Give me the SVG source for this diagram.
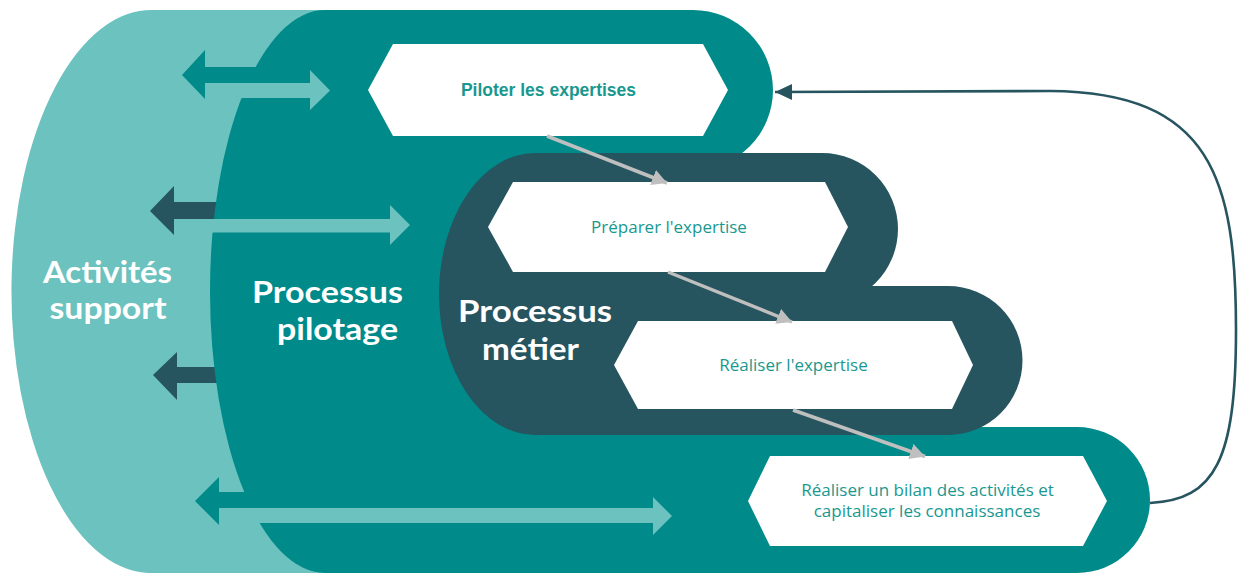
<svg xmlns="http://www.w3.org/2000/svg" width="1239" height="574" viewBox="0 0 1239 574">
<defs>
<style>
.support{fill:#6CC2BE}
.pilot{fill:#008B8A}
.metier{fill:#26545F}
.hex{fill:#FFFFFF}
.big{font-family:Lato,"Open Sans","Liberation Sans",sans-serif;font-weight:700;font-size:30px;fill:#FFFFFF;text-anchor:middle}
.ntext{font-family:"Open Sans","Liberation Sans",sans-serif;font-weight:500;font-size:17px;fill:#199890;text-anchor:middle}
.nbold{font-family:"Liberation Sans",Arial,sans-serif;font-weight:bold;font-size:17.5px;fill:#199890;text-anchor:middle}
.flow{stroke:#BFBFBF;stroke-width:3.5;fill:none}
.loop{stroke:#26545F;stroke-width:2.6;fill:none}
</style>
<marker id="gray-head" markerUnits="userSpaceOnUse" markerWidth="16" markerHeight="16" refX="15" refY="8" orient="auto">
<path d="M0,0 L15,8 L0,16 Z" fill="#BFBFBF"/>
</marker>
<marker id="loop-head" markerUnits="userSpaceOnUse" markerWidth="18" markerHeight="18" refX="17" refY="9" orient="auto">
<path d="M0,1 L17,9 L0,17 Z" fill="#26545F"/>
</marker>
</defs>

<g id="activites-support">
<path class="support" d="M155,10 H420 V573 H148 A140,281.5 0 0 1 155,10 Z"/>
</g>

<g id="dark-arrows">
<polygon class="pilot" points="182,75 205,50 205,67 270,67 270,83 205,83 205,99"/>
<polygon class="metier" points="150,211 174,186 174,202 230,202 230,219 174,219 174,235"/>
<polygon class="metier" points="153,375 177,352 177,367 230,367 230,383 177,383 177,400"/>
<polygon class="pilot" points="195,501 219,477 219,492 260,492 260,508 219,508 219,525"/>
</g>

<g id="processus-pilotage">
<path class="pilot" d="M325,10 H693 A80,80 0 0 1 693,170 L693,427 H1077 A73,73 0 0 1 1077,573 H325 A115,281.5 0 0 1 325,10 Z"/>
</g>

<g id="light-arrows">
<polygon class="support" points="215,83 310,83 310,70 330,90.5 310,110 310,98 215,98"/>
<polygon class="support" points="180,219 390,219 390,205 410,225 390,245 390,232.5 180,232.5"/>
<polygon class="support" points="222,508 653,508 653,497 672,516 653,535 653,523 222,523"/>
</g>

<g id="processus-metier">
<path class="metier" d="M535,153 H822 A76,76 0 0 1 822,305 H535 Z M535,435 A96,141 0 0 1 535,153 L545,153 L545,286 H948 A74.5,74.5 0 0 1 948,435 Z"/>
</g>

<g id="labels">
<text class="big" x="107.5" y="283" textLength="129" lengthAdjust="spacingAndGlyphs">Activités</text>
<text class="big" x="108" y="319" textLength="117" lengthAdjust="spacingAndGlyphs">support</text>
<text class="big" x="327.5" y="303" textLength="151" lengthAdjust="spacingAndGlyphs">Processus</text>
<text class="big" x="337.5" y="340" textLength="121" lengthAdjust="spacingAndGlyphs">pilotage</text>
<text class="big" x="535" y="322" textLength="154" lengthAdjust="spacingAndGlyphs">Processus</text>
<text class="big" x="530.5" y="360" textLength="97" lengthAdjust="spacingAndGlyphs">métier</text>
</g>

<g id="node-piloter">
<polygon class="hex" points="368,90 393,44 703,44 728,90 703,136 393,136"/>
<text class="nbold" x="548.5" y="96">Piloter les expertises</text>
</g>

<g id="node-preparer">
<polygon class="hex" points="488,227 513,182 825,182 848,227 825,272 513,272"/>
<text class="ntext" x="669" y="232.5">Préparer l'expertise</text>
</g>

<g id="node-realiser">
<polygon class="hex" points="614,365 638,321 952,321 973,365 952,409 638,409"/>
<text class="ntext" x="793.5" y="371">Réaliser l'expertise</text>
</g>

<g id="node-bilan">
<polygon class="hex" points="748,501 770,456 1083,456 1107,501 1083,546 770,546"/>
<text class="ntext" x="927.5" y="495.5">Réaliser un bilan des activités et</text>
<text class="ntext" x="927" y="517">capitaliser les connaissances</text>
</g>

<g id="connectors">
<line class="flow" x1="547" y1="136" x2="667" y2="183" marker-end="url(#gray-head)"/>
<line class="flow" x1="668" y1="272" x2="792" y2="322" marker-end="url(#gray-head)"/>
<line class="flow" x1="793" y1="410" x2="925" y2="456.5" marker-end="url(#gray-head)"/>
<path class="loop" d="M1150,503 C1215,500 1236,460 1236,330 C1236,180 1212,92 1050,91 L775,92" marker-end="url(#loop-head)"/>
</g>
</svg>
